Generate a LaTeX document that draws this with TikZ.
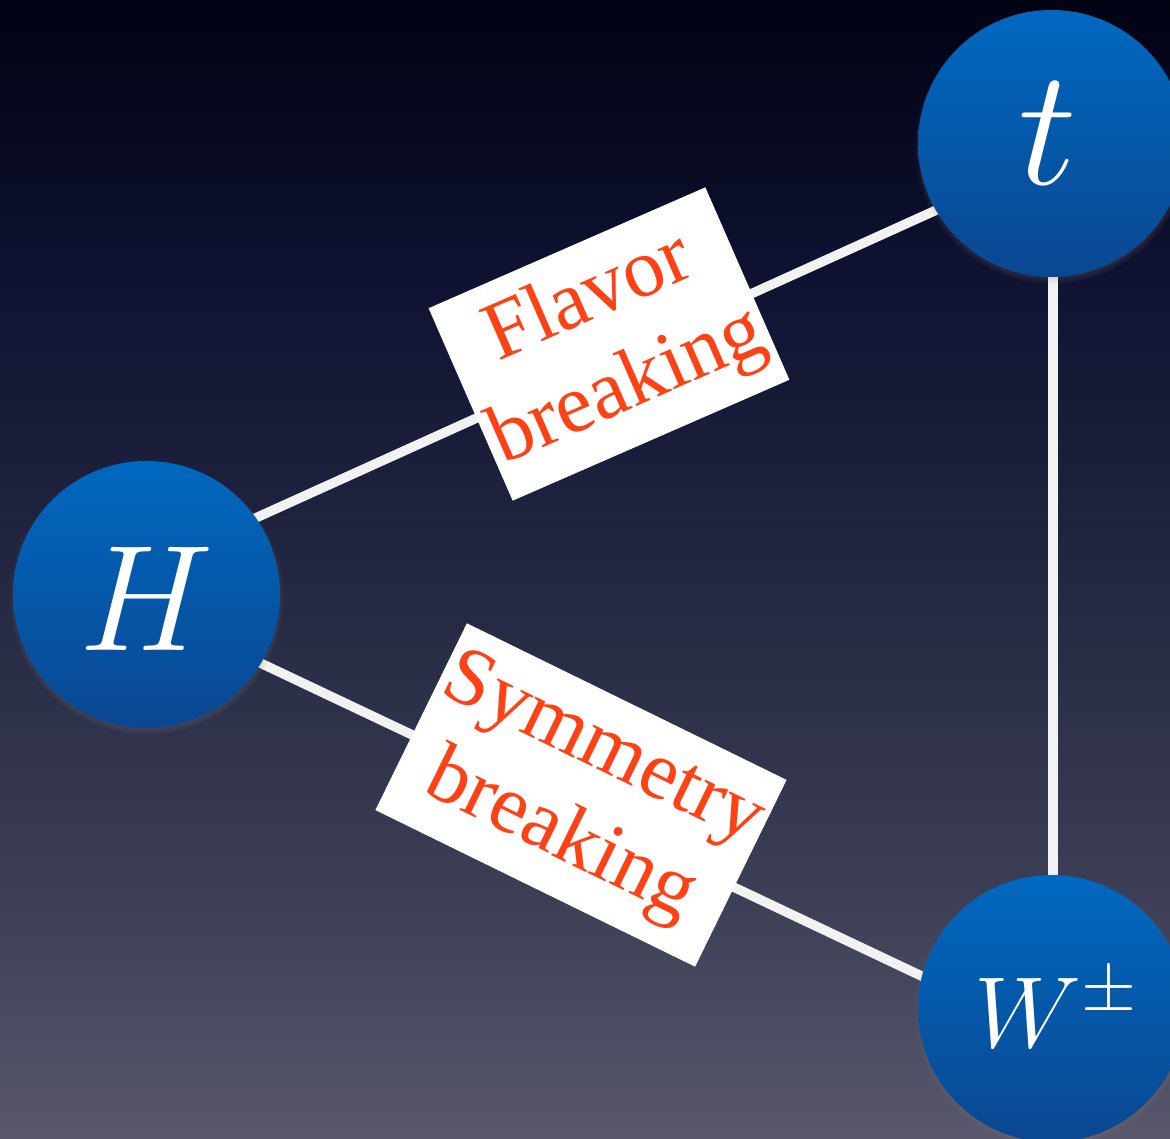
\documentclass[tikz,border=0pt]{standalone}
\usepackage{fix-cm}
\usepackage{fontspec}
\setmainfont{Liberation Serif}
\usetikzlibrary{shadows}
\definecolor{bg0}{HTML}{58576B}
\definecolor{bg1}{HTML}{3D3F56}
\definecolor{bg2}{HTML}{232741}
\definecolor{bg3}{HTML}{0E1130}
\definecolor{bg4}{HTML}{010212}
\definecolor{ptop}{HTML}{0068BF}
\definecolor{pbot}{HTML}{0A4791}
\definecolor{linec}{HTML}{F2F2F2}
\definecolor{tagred}{HTML}{FF4216}
\pgfdeclareverticalshading{bgshade}{100bp}{color(0bp)=(bg0); color(25bp)=(bg0); color(35.5bp)=(bg1); color(49.5bp)=(bg2); color(63.5bp)=(bg3); color(75bp)=(bg4); color(100bp)=(bg4)}
\pgfdeclarelayer{bglayer}
\pgfdeclarelayer{linelayer}
\pgfsetlayers{bglayer,linelayer,main}
\tikzset{
  particle/.style={circle, minimum size=267pt, inner sep=0pt, draw=none,
    top color=ptop, bottom color=pbot,
    circular drop shadow={shadow xshift=0pt, shadow yshift=-3pt, shadow scale=1.03, opacity=0.6}},
  conn/.style={line width=9.5pt, draw=linec, shorten <=-8pt, shorten >=-8pt},
  tag/.style={fill=white, inner sep=0pt, align=center, text=tagred,
    font=\fontsize{83}{97}\selectfont},
  sym/.style={text=white, inner sep=0pt},
}
\begin{document}
\begin{tikzpicture}[x=1pt,y=-1pt]
\useasboundingbox (0,0) rectangle (1170,1139);
\clip (0,0) rectangle (1170,1139);
\begin{pgfonlayer}{bglayer}
  \shade[shading=bgshade] (0,0) rectangle (1170,1139);
\end{pgfonlayer}
% particles
\node[particle] (H) at (146.5,594.5) {};
\node[particle] (t) at (1051.5,143.5) {};
\node[particle] (W) at (1051.5,1008.5) {};
% connectors
\begin{pgfonlayer}{linelayer}
  \draw[conn] (H.35) -- (t.210);
  \draw[conn] (H.-31) -- (W.166);
  \draw[conn] ([xshift=1.5pt]t.south) -- ([xshift=1.5pt]W.north);
\end{pgfonlayer}
% tags
\node[tag, rotate=23.6, minimum width=302pt, minimum height=210pt] (fb) at (609,344) {Flavor\\breaking};
\node[tag, rotate=-26.1, minimum width=356pt, minimum height=208pt] (sb) at (581,795) {Symmetry\\breaking};
% labels
\node[sym, anchor=base, font=\fontsize{166}{166}\selectfont] (tl) at (1048,185) {$t$};
\node[sym, anchor=base, font=\fontsize{151}{151}\selectfont] (Hl) at (147,650) {$H$};
\node[sym, anchor=base west, font=\fontsize{101}{101}\selectfont] (Wl) at (974,1047) {$W^{\pm}$};
\end{tikzpicture}
\end{document}
